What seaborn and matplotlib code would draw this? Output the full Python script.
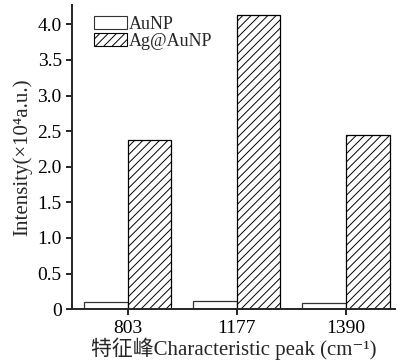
import matplotlib
matplotlib.use("Agg")
import matplotlib.pyplot as plt
import seaborn as sns
import pandas as pd
from matplotlib.patches import Patch

categories = ["803", "1177", "1390"]
series = ["AuNP", "Ag@AuNP"]
aunp = [0.10, 0.11, 0.08]
ag_aunp = [2.37, 4.13, 2.45]
yticks = [0, 0.5, 1.0, 1.5, 2.0, 2.5, 3.0, 3.5, 4.0]
yticklabels = ["0", "0.5", "1.0", "1.5", "2.0", "2.5", "3.0", "3.5", "4.0"]

df = pd.DataFrame({
    "peak": categories * 2,
    "series": [series[0]] * 3 + [series[1]] * 3,
    "value": aunp + ag_aunp,
})

sns.set_style("ticks")
plt.rcParams['font.family'] = ['Liberation Serif', 'Noto Sans CJK SC', 'DejaVu Serif']
plt.rcParams['hatch.color'] = '#aaaaaa'
plt.rcParams['hatch.linewidth'] = 0.7

fig = plt.figure(figsize=(4.01, 3.62), dpi=100)
ax = fig.add_axes([0.18, 0.146, 0.805, 0.84])

sns.barplot(data=df, x="peak", y="value", hue="series", order=categories,
            hue_order=series, palette=["white", "white"], width=0.8,
            edgecolor="black", linewidth=0.9, ax=ax, legend=False)

n = len(categories)
for i, p in enumerate(ax.patches[:2 * n]):
    if i >= n:
        p.set_hatch("////")
        p.set_edgecolor("black")
    else:
        p.set_edgecolor("#333333")

ax.set_xlim(-0.51, 2.45)
ax.set_ylim(0, 4.27)
ax.set_yticks(yticks)
ax.set_yticklabels(yticklabels)
for s in ["top", "right"]:
    ax.spines[s].set_visible(False)
for s in ["left", "bottom"]:
    ax.spines[s].set_linewidth(1.4)
ax.tick_params(axis="both", direction="out", length=4, width=1.2, labelsize=14, colors="black")

ax.set_xlabel("特征峰Characteristic peak (cm⁻¹)", fontsize=15, labelpad=1)
ax.set_ylabel("Intensity(×10⁴a.u.)", fontsize=15, labelpad=4)

handles = [Patch(facecolor="white", edgecolor="#333333", linewidth=0.8, label="AuNP"),
           Patch(facecolor="white", edgecolor="black", hatch="////", linewidth=0.8, label="Ag@AuNP")]
ax.legend(handles=handles, loc="upper left", bbox_to_anchor=(0.035, 1.0), frameon=False,
          fontsize=13, handlelength=1.8, handleheight=0.7, handletextpad=0.1,
          labelspacing=0.0, borderaxespad=0.2)

fig.savefig("out.png", dpi=100)
